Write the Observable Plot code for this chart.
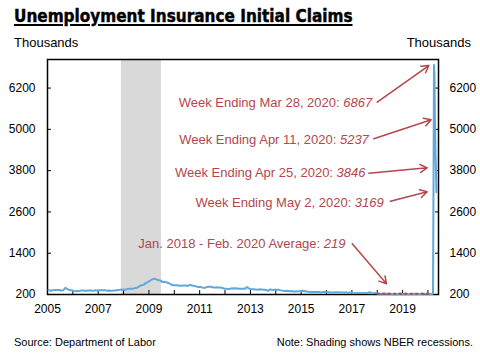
<!DOCTYPE html>
<html>
<head>
<meta charset="utf-8">
<script src="https://cdn.jsdelivr.net/npm/d3@7"></script>
<script src="https://cdn.jsdelivr.net/npm/@observablehq/plot@0.6"></script>
<style>
  body { margin: 0; background: #fff; }
  #wrap { position: relative; width: 480px; height: 358px; background: #fff; font-family: "Liberation Sans", Arial, Helvetica, sans-serif; color: #000; overflow: hidden; }
  #wrap .t { position: absolute; white-space: nowrap; }
  #title { left: 14px; top: 8px; font-family: "Liberation Sans Narrow", "Arial Narrow", "DejaVu Sans Condensed", sans-serif; font-weight: bold; font-size: 17px; line-height: 17px; text-decoration: underline; text-decoration-thickness: 1.5px; text-underline-offset: 2px; -webkit-text-stroke: 0.4px #000; }
  #ulL { left: 14px; top: 35px; font-size: 13px; line-height: 15px; }
  #ulR { right: 9px; top: 35px; font-size: 13px; line-height: 15px; }
  #src { left: 14px; top: 336px; font-size: 11px; line-height: 13px; }
  #note { right: 7px; top: 336px; font-size: 11px; line-height: 13px; }
  #chart { position: absolute; left: 0; top: 0; }
</style>
</head>
<body>
<div id="wrap">
  <div id="chart"></div>
  <div class="t" id="title">Unemployment Insurance Initial Claims</div>
  <div class="t" id="ulL">Thousands</div>
  <div class="t" id="ulR">Thousands</div>
  <div class="t" id="src">Source: Department of Labor</div>
  <div class="t" id="note">Note: Shading shows NBER recessions.</div>
</div>
<script>
// ---------------- DATA ----------------
// Monthly initial claims (thousands), Jan 2005 – Feb 2020
const firstMonth = "2005-01-15";
const monthlyClaims = [
  335, 310, 325, 330, 330, 330, 315, 320, 395, 355, 325, 325, // 2005
  305, 295, 305, 310, 320, 310, 310, 315, 315, 310, 320, 315, // 2006
  320, 330, 320, 325, 310, 315, 305, 315, 315, 330, 335, 345, // 2007
  335, 350, 370, 370, 370, 385, 395, 440, 470, 480, 530, 560, // 2008
  600, 640, 660, 640, 620, 610, 560, 570, 550, 530, 490, 470, // 2009
  470, 470, 455, 455, 460, 460, 450, 480, 460, 450, 430, 420, // 2010
  420, 400, 390, 420, 425, 425, 405, 405, 410, 400, 395, 375, // 2011
  370, 360, 365, 380, 375, 380, 370, 370, 370, 370, 420, 370, // 2012
  350, 350, 345, 340, 350, 345, 340, 330, 310, 350, 330, 340, // 2013
  335, 335, 320, 310, 305, 310, 295, 300, 290, 285, 295, 295, // 2014
  300, 300, 285, 280, 275, 275, 270, 275, 270, 260, 270, 275, // 2015
  275, 265, 260, 255, 265, 265, 260, 260, 255, 255, 250, 260, // 2016
  245, 240, 245, 245, 240, 245, 240, 240, 270, 235, 240, 240, // 2017
  225, 220, 225, 225, 220, 220, 215, 210, 205, 210, 220, 220, // 2018
  215, 225, 215, 210, 215, 220, 215, 215, 215, 220, 225, 220, // 2019
  215, 212                                                    // 2020
];
// Weekly claims, March – May 2020
const spikeWeeks = ["2020-03-07", "2020-03-14", "2020-03-21", "2020-03-28", "2020-04-04", "2020-04-11", "2020-04-18", "2020-04-25", "2020-05-02"];
const spikeClaims = [215, 251, 3307, 6867, 6615, 5237, 4442, 3846, 3169];

// NBER recession
const recessionStart = "2007-12-01";
const recessionEnd = "2009-06-30";

// Pre-pandemic average
const avgStart = "2018-01-01";
const avgEnd = "2020-02-29";
const avgValue = 219;

// Axis ticks
const yTicks = [200, 1400, 2600, 3800, 5000, 6200];
const xTickYears = [2005, 2006, 2007, 2008, 2009, 2010, 2011, 2012, 2013, 2014, 2015, 2016, 2017, 2018, 2019, 2020];
const xLabelYears = [2005, 2007, 2009, 2011, 2013, 2015, 2017, 2019];

// Annotation texts
const noteTexts = [
  "Week Ending Mar 28, 2020: 6867",
  "Week Ending Apr 11, 2020: 5237",
  "Week Ending Apr 25, 2020: 3846",
  "Week Ending May 2, 2020: 3169",
  "Jan. 2018 - Feb. 2020 Average: 219"
];

// ---------------- LAYOUT (annotation anchors in data space) ----------------
const noteAt = [
  ["2017-10-20", 5760], ["2017-09-02", 4696], ["2017-07-16", 3725], ["2018-04-05", 2853], ["2016-10-01", 1673]
];
const arrowsFT = [
  ["2018-01-01", 5788, "2020-01-14", 6855],
  ["2017-11-13", 4725, "2020-02-17", 5277],
  ["2017-09-02", 3725, "2019-12-21", 3882],
  ["2018-07-10", 2911, "2019-12-21", 3184],
  ["2017-01-06", 1673, "2018-05-14", 511]
];

// ---------------- BUILD ----------------
const parse = d3.utcParse("%Y-%m-%d");
const series = monthlyClaims.map((v, i) => ({date: d3.utcMonth.offset(parse(firstMonth), i), value: v}))
  .concat(spikeWeeks.map((d, i) => ({date: parse(d), value: spikeClaims[i]})));
const notes = noteTexts.map((t, i) => ({text: t, date: parse(noteAt[i][0]), value: noteAt[i][1]}));
const arrows = arrowsFT.map(a => ({x1: parse(a[0]), y1: a[1], x2: parse(a[2]), y2: a[3]}));
const recession = [{start: parse(recessionStart), end: parse(recessionEnd)}];
const avg = [{start: parse(avgStart), end: parse(avgEnd), value: avgValue}];
const xTicks = xTickYears.map(y => new Date(Date.UTC(y, 0, 1)));
const labelSet = new Set(xLabelYears);

const red = "#b3474c";
const blue = "#5ea8dc";

const chart = Plot.plot({
  width: 480,
  height: 358,
  marginLeft: 47,
  marginRight: 42,
  marginTop: 59,
  marginBottom: 64,
  style: {fontFamily: "'Liberation Sans', Arial, Helvetica, sans-serif", fontSize: "12px", background: "transparent", color: "#000"},
  x: {type: "utc", domain: [parse("2005-01-01"), parse("2020-06-01")]},
  y: {domain: [200, 7030]},
  marks: [
    Plot.rect(recession, {x1: "start", x2: "end", y1: 200, y2: 7030, fill: "#d9d9d9"}),
    Plot.frame({stroke: "#000", strokeWidth: 1.5}),
    Plot.axisY(yTicks, {anchor: "left", tickSize: -4, tickPadding: 16, label: null, fontSize: 12, tickFormat: d => String(d)}),
    Plot.axisY(yTicks, {anchor: "right", tickSize: -4, tickPadding: 15, label: null, fontSize: 12, tickFormat: d => String(d)}),
    Plot.axisX(xTicks, {anchor: "bottom", tickSize: -4, tickPadding: 14, label: null, fontSize: 12,
      tickFormat: d => labelSet.has(d.getUTCFullYear()) ? String(d.getUTCFullYear()) : ""}),
    Plot.lineY(series, {x: "date", y: "value", stroke: blue, strokeWidth: 2}),
    Plot.ruleY(avg, {x1: "start", x2: "end", y: "value", stroke: red, strokeWidth: 2, strokeDasharray: "3,2.5"}),
    Plot.arrow(arrows, {x1: "x1", y1: "y1", x2: "x2", y2: "y2", stroke: red, strokeWidth: 1.5, headLength: 8, bend: 0}),
    Plot.text(notes, {x: "date", y: "value", text: "text", textAnchor: "end", fill: red, fontSize: 13})
  ]
});

// Italicise the numeric value of each annotation
d3.select(chart).selectAll("text").each(function() {
  const t = this.textContent;
  const m = t.match(/^(.*: )(\d+)$/);
  if (m && this.children.length === 0) {
    const s = d3.select(this);
    s.text(null);
    s.append("tspan").text(m[1]);
    s.append("tspan").attr("font-style", "italic").text(m[2]);
  }
});

document.getElementById("chart").appendChild(chart);
</script>
</body>
</html>
